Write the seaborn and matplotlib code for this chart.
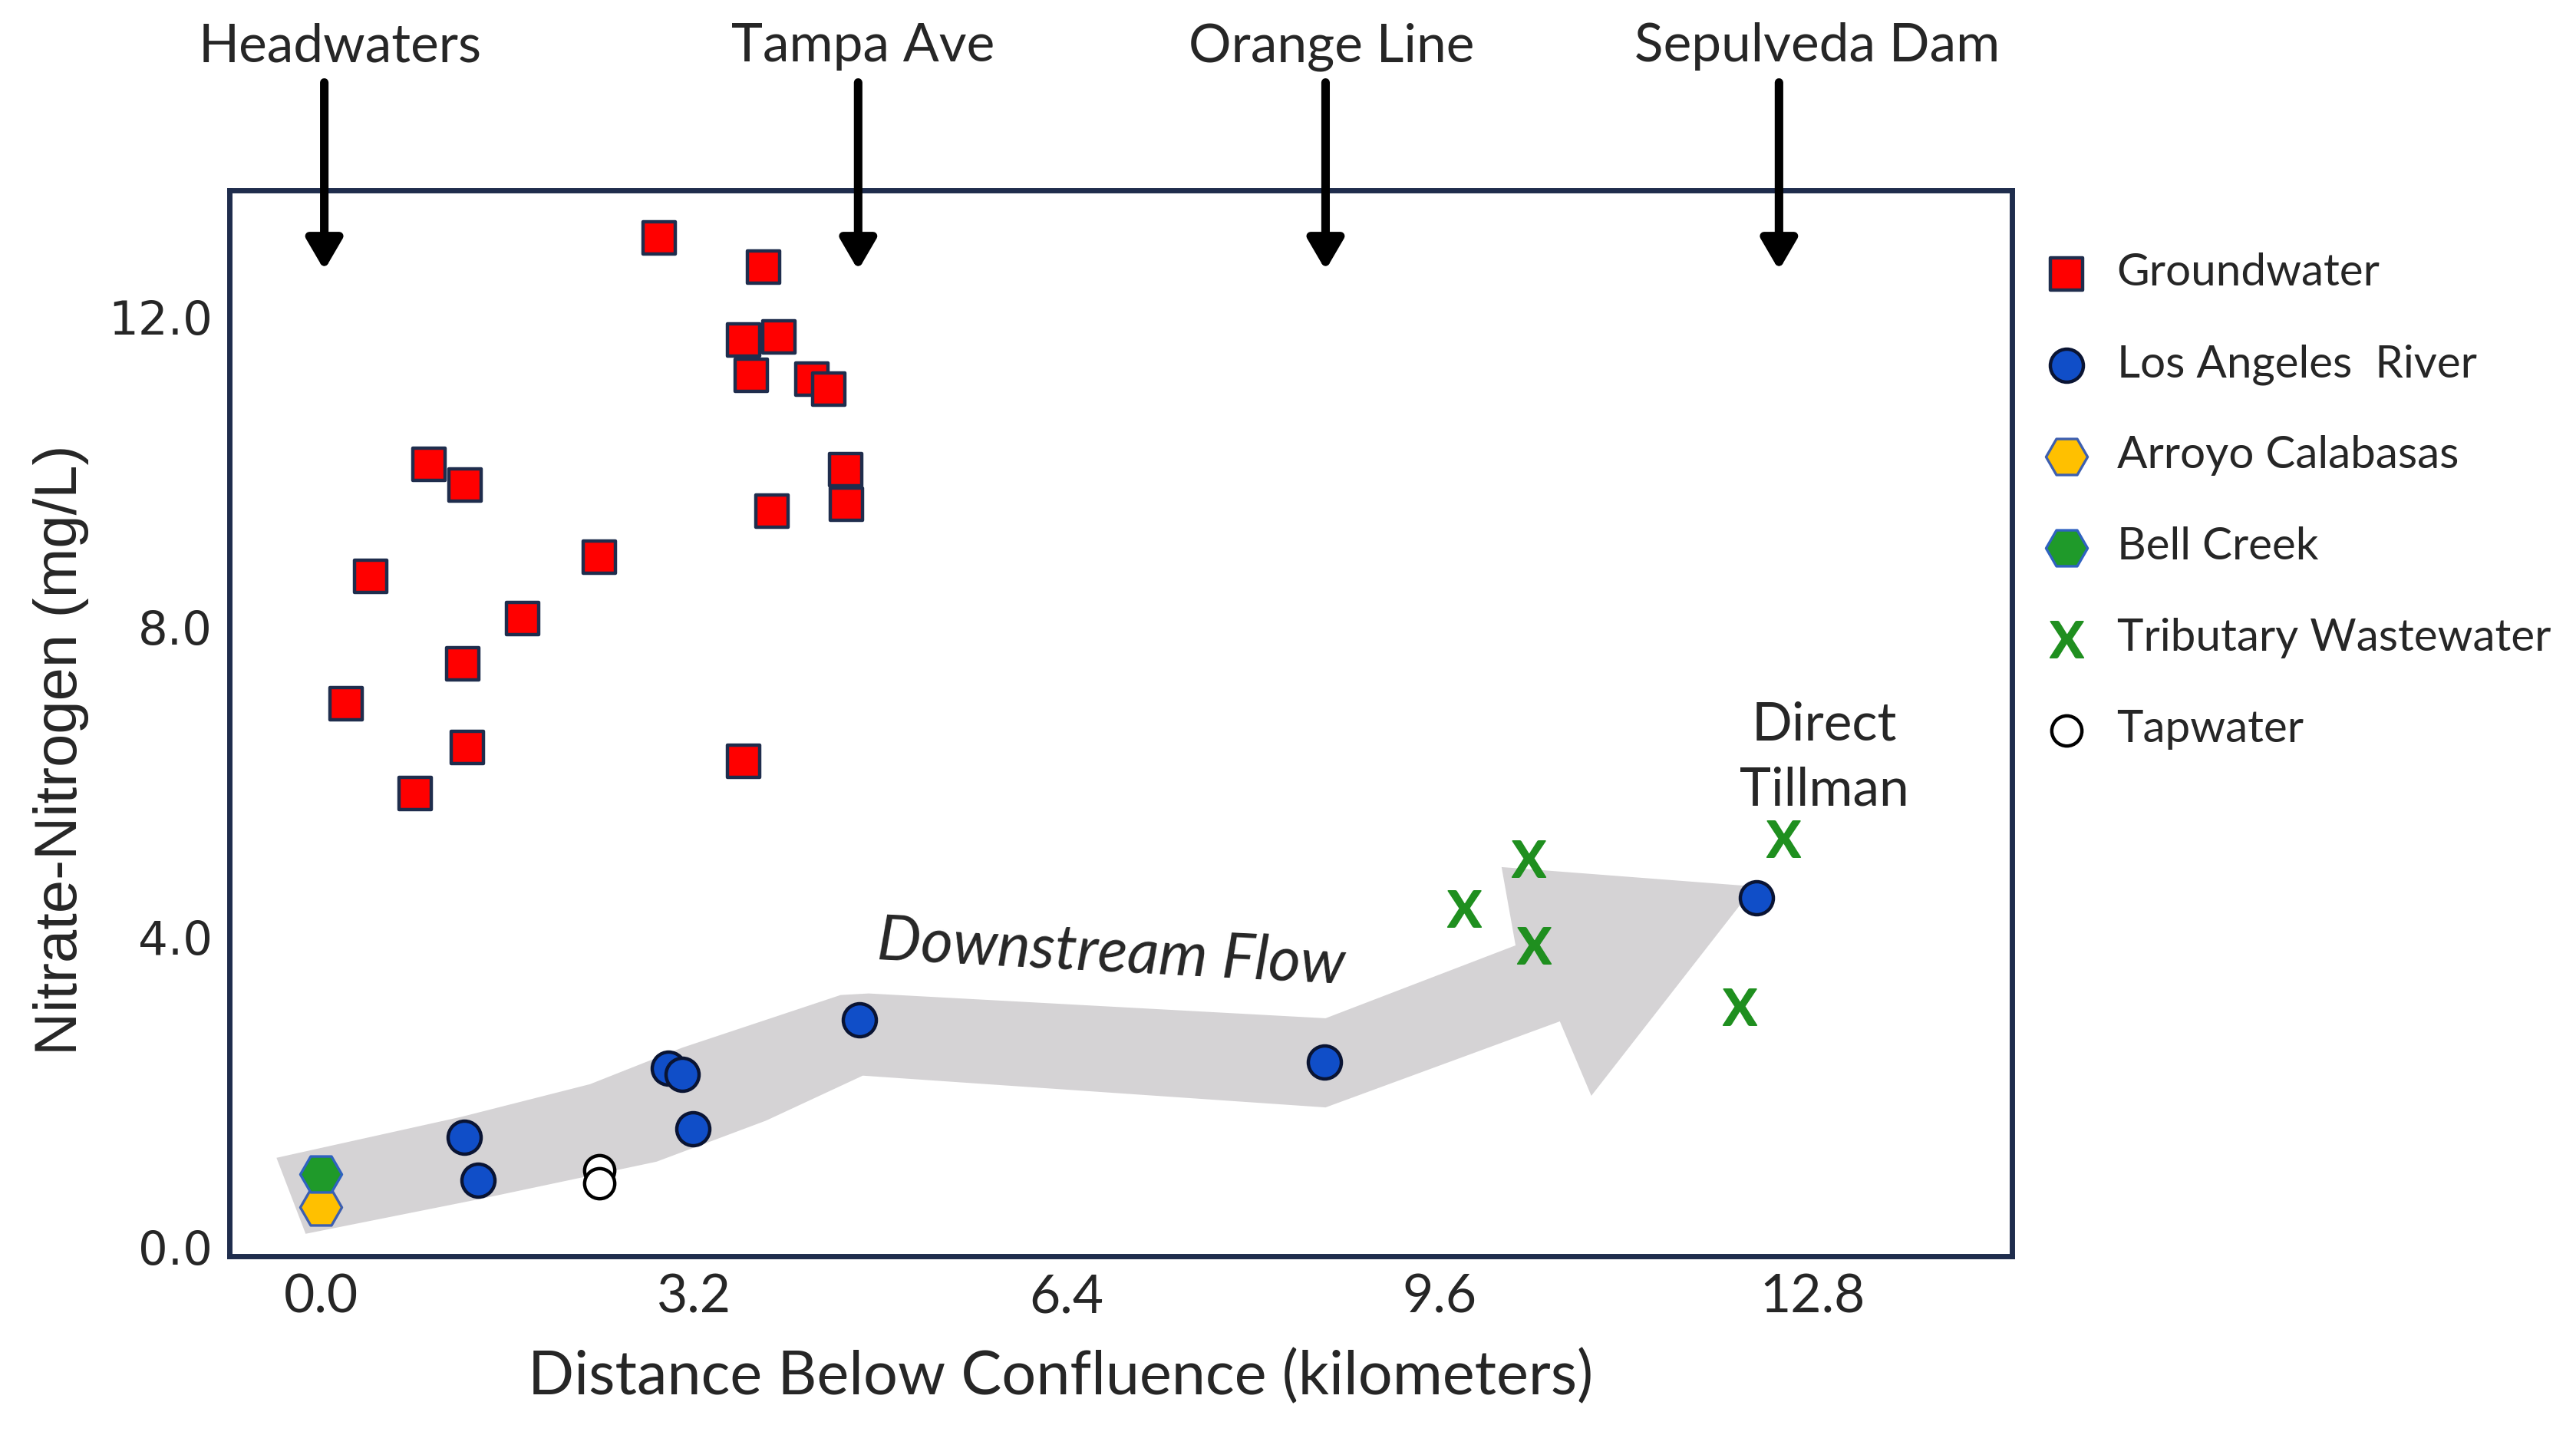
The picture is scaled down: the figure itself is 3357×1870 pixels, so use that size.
import matplotlib
matplotlib.use('Agg')
import matplotlib.pyplot as plt
from matplotlib.patches import Polygon
import seaborn as sns

# nitrate-nitrogen (mg/L) vs distance below confluence (km)
gw_km = [2.90, 3.80, 3.63, 3.93, 3.69, 4.21, 4.36, 0.93, 1.24, 4.50,
         3.87, 4.51, 2.39, 0.43, 1.73, 1.22, 0.22, 1.26, 3.63, 0.81]
gw_no3 = [13.02, 12.64, 11.70, 11.74, 11.24, 11.19, 11.07, 10.10, 9.83, 10.03,
          9.49, 9.58, 8.90, 8.65, 8.11, 7.52, 7.01, 6.44, 6.27, 5.85]

river_km = [1.23, 1.35, 2.98, 3.10, 3.19, 4.62, 8.61, 12.32]
river_no3 = [1.42, 0.86, 2.31, 2.23, 1.52, 2.93, 2.39, 4.50]

arroyo_km = [0.0]
arroyo_no3 = [0.51]
bell_km = [0.0]
bell_no3 = [0.94]

ww_km = [10.36, 9.81, 10.41, 12.55, 12.17]
ww_no3 = [5.01, 4.36, 3.89, 5.27, 3.10]

tap_km = [2.39, 2.39]
tap_no3 = [0.99, 0.82]

# landmarks along the river (arrows at the top)
landmarks = ['Headwaters', 'Tampa Ave', 'Orange Line', 'Sepulveda Dam']
landmark_km = [0.03, 4.61, 8.62, 12.51]
landmark_label_km = [0.165, 4.65, 8.67, 12.84]

# outline of the grey "downstream flow" arrow
flow_km = [-0.38, 1.21, 2.31, 3.10, 3.82, 4.46, 4.70, 8.62, 10.25, 10.13, 12.30,
           10.90, 10.63, 8.62, 4.65, 3.82, 2.88, 1.37, -0.13]
flow_no3 = [1.15, 1.68, 2.10, 2.57, 2.93, 3.25, 3.27, 2.95, 3.89, 4.90, 4.65,
            1.95, 2.91, 1.80, 2.21, 1.63, 1.10, 0.62, 0.17]

x_ticks = [0.0, 3.2, 6.4, 9.6, 12.8]
y_ticks = [0.0, 4.0, 8.0, 12.0]

sns.set_style('white')
plt.rcParams['font.family'] = ['Lato', 'DejaVu Sans']
plt.rcParams['mathtext.fontset'] = 'custom'
plt.rcParams['mathtext.bf'] = 'Lato:bold'

fig = plt.figure(figsize=(16.785, 9.35), dpi=200)
ax = fig.add_axes([0.0891, 0.1246, 0.692, 0.7428])

ax.add_patch(Polygon(list(zip(flow_km, flow_no3)), closed=True,
                     facecolor='#d5d3d5', edgecolor='none', zorder=1))

frame = '#1f2d4d'
sns.scatterplot(x=gw_km, y=gw_no3, marker='s', s=230, color='#ff0000',
                edgecolor=frame, linewidth=1.6, label='Groundwater', ax=ax, zorder=3)
sns.scatterplot(x=river_km, y=river_no3, marker='o', s=240, color='#104ec8',
                edgecolor='#0a1433', linewidth=1.6, label='Los Angeles  River', ax=ax, zorder=3)
sns.scatterplot(x=arroyo_km, y=arroyo_no3, marker='H', s=380, color='#ffc000',
                edgecolor='#3d5fb0', linewidth=1.2, label='Arroyo Calabasas', ax=ax, zorder=3)
sns.scatterplot(x=bell_km, y=bell_no3, marker='H', s=380, color='#1f9a2a',
                edgecolor='#2f62c0', linewidth=1.2, label='Bell Creek', ax=ax, zorder=3)
sns.scatterplot(x=ww_km, y=ww_no3, marker=r'$\mathbf{X}$', s=290, color='#1f8f1f',
                edgecolor='#1f8f1f', linewidth=0.6, label='Tributary Wastewater', ax=ax, zorder=3)
sns.scatterplot(x=tap_km, y=tap_no3, marker='o', s=200, color='white',
                edgecolor='black', linewidth=1.6, label='Tapwater', ax=ax, zorder=3)

ax.set_xlim(-0.783, 14.51)
ax.set_ylim(-0.119, 13.63)
ax.set_xticks(x_ticks)
ax.set_xticklabels([f'{v:.1f}' for v in x_ticks], fontsize=25)
ax.set_yticks(y_ticks)
ax.set_yticklabels([f'{v:.1f}' for v in y_ticks], fontsize=22, family='DejaVu Sans')
ax.tick_params(length=0, pad=8)
for sp in ax.spines.values():
    sp.set_visible(True)
    sp.set_color(frame)
    sp.set_linewidth(2.5)

ax.set_xlabel('Distance Below Confluence (kilometers)', fontsize=28.5)
ax.xaxis.set_label_coords(0.466, -0.1138)
ax.xaxis.label.set_va('center')
ax.set_ylabel('Nitrate-Nitrogen (mg/L)', fontsize=28, family=['Liberation Sans', 'DejaVu Sans'])
ax.yaxis.set_label_coords(-0.0947, 0.475)
ax.yaxis.label.set_va('center')
ax.yaxis.label.set_ha('center')

# landmark arrows and labels above the panel
for name, km, lab_km in zip(landmarks, landmark_km, landmark_label_km):
    ax.annotate('', xy=(km, 12.60), xytext=(km, 15.02), annotation_clip=False,
                arrowprops=dict(arrowstyle='-|>,head_length=0.6,head_width=0.35',
                                mutation_scale=20, lw=4, color='black',
                                shrinkA=0, shrinkB=0))
    ax.text(lab_km, 15.29, name, ha='center', va='baseline', fontsize=25)

ax.text(6.78, 3.79, 'Downstream Flow', rotation=-3, style='italic', fontsize=29,
        ha='center', va='center', rotation_mode='anchor', zorder=2)
ax.text(12.90, 6.31, 'Direct\nTillman', ha='center', va='center', fontsize=25,
        linespacing=1.45)

ax.legend(loc='upper left', bbox_to_anchor=(0.7936, 0.824), bbox_transform=fig.transFigure,
          frameon=False, fontsize=21, handlelength=1.0, handletextpad=0.62,
          labelspacing=1.13, borderpad=0, borderaxespad=0)

fig.savefig('out.png', dpi=200, facecolor='white')
